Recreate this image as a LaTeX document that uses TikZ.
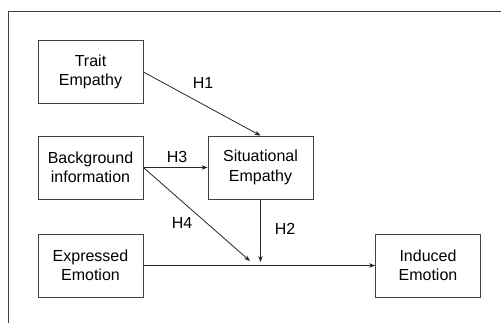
\documentclass[tikz,border=0pt]{standalone}
\usepackage{fontspec}
\setmainfont{Liberation Sans}
\usetikzlibrary{arrows.meta}

\begin{document}
\begin{tikzpicture}[x=1pt,y=-1pt,>={Stealth[length=6pt,width=4.5pt]},
  line width=0.8pt,
  box/.style={rectangle,draw=black!75,minimum width=105pt,minimum height=63pt,
    align=center,font=\fontsize{16}{19.5}\selectfont},
  hlabel/.style={font=\fontsize{16}{19.5}\selectfont}]
  \clip (0,0) rectangle (501,322);
  \draw[black!75] (8,11) rectangle (540,360);
  % boxes
  \node[box] (t) at (90.5,72) {Trait\\Empathy};
  \node[box] (b) at (90.5,167.5) {Background\\information};
  \node[box] (e) at (90.5,265.5) {Expressed\\Emotion};
  \node[box] (s) at (260.5,167.5) {Situational\\Empathy};
  \node[box] (i) at (428,265.5) {Induced\\Emotion};
  \coordinate (h2end) at (260.5,262);
  \coordinate (h4end) at (250,261);
  % paths
  \path[->,every edge/.style={draw=black!85}]
    (t.east) edge (s.north)
    (b.east) edge (s.west)
    (b.east) edge (h4end)
    (s.south) edge (h2end)
    (e.east) edge (i.west);
  \node[hlabel] (l1) at (203,83) {H1};
  \node[hlabel] (l3) at (177,157) {H3};
  \node[hlabel] (l4) at (182,223) {H4};
  \node[hlabel] (l2) at (285,229) {H2};
\end{tikzpicture}
\end{document}
